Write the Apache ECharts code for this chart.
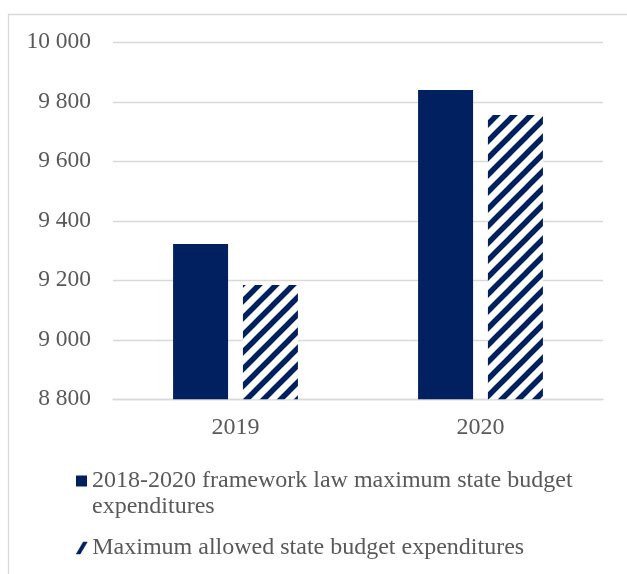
<!DOCTYPE html>
<html>
<head>
<meta charset="utf-8">
<script src="https://cdn.jsdelivr.net/npm/echarts@6/dist/echarts.min.js"></script>
<style>
  html, body { margin: 0; padding: 0; background: #fff; }
  #main { width: 627px; height: 574px; }
</style>
</head>
<body>
<div id="main"></div>
<script>
// ---------- data ----------
var years = ['2019', '2020'];
var frameworkName = '2018-2020 framework law maximum state budget expenditures';
var allowedName = 'Maximum allowed state budget expenditures';
var frameworkValues = [9322, 9840];
var allowedValues = [9184, 9756];

var navy = '#002060';
var textColor = '#595959';
var lineColor = '#d9d9d9';
var fontName = 'Liberation Serif';

// diagonal hatch tile
function hatch() {
    var s = 17;
    var c = document.createElement('canvas');
    c.width = s;
    c.height = s;
    var ctx = c.getContext('2d');
    ctx.fillStyle = '#fff';
    ctx.fillRect(0, 0, s, s);
    ctx.strokeStyle = navy;
    ctx.lineWidth = 5.5;
    ctx.beginPath();
    ctx.moveTo(-s, s); ctx.lineTo(s, -s);
    ctx.moveTo(0, s); ctx.lineTo(s, 0);
    ctx.moveTo(0, 2 * s); ctx.lineTo(2 * s, 0);
    ctx.stroke();
    return c;
}

var chart = echarts.init(document.getElementById('main'));

var option = {
    backgroundColor: '#fff',
    animation: false,
    grid: {
        left: 113,
        right: 24,
        top: 42.3,
        bottom: 174.7
    },
    graphic: [{
        type: 'rect',
        shape: { x: 8.5, y: 14.5, width: 700, height: 700 },
        style: { fill: 'none', stroke: lineColor, lineWidth: 1.3 },
        silent: true
    }],
    legend: [{
        left: 76,
        top: 442,
        padding: 0,
        itemWidth: 11,
        itemHeight: 11,
        data: [{ name: frameworkName, icon: 'rect' }],
        itemStyle: { color: navy },
        // empty first line keeps the icon level with the first text line
        formatter: function () {
            return '\n2018-2020 framework law maximum state budget\nexpenditures';
        },
        textStyle: {
            color: textColor,
            fontFamily: fontName,
            fontSize: 24,
            lineHeight: 26
        }
    }, {
        left: 76,
        top: 535,
        padding: 0,
        itemWidth: 11,
        itemHeight: 12,
        data: [{ name: allowedName, icon: 'path://M7,0 L11,0 L4,12 L0,12 Z' }],
        itemStyle: { color: navy, borderColor: navy, borderWidth: 0.5 },
        textStyle: {
            color: textColor,
            fontFamily: fontName,
            fontSize: 24,
            lineHeight: 26
        }
    }],
    xAxis: {
        type: 'category',
        data: years,
        axisTick: { show: false },
        axisLine: { lineStyle: { color: lineColor, width: 1.3 } },
        axisLabel: {
            color: textColor,
            fontFamily: fontName,
            fontSize: 24,
            margin: 16
        }
    },
    yAxis: {
        type: 'value',
        min: 8800,
        max: 10000,
        interval: 200,
        axisLine: { show: false },
        axisTick: { show: false },
        splitLine: { lineStyle: { color: lineColor, width: 1.3 } },
        axisLabel: {
            color: textColor,
            fontFamily: fontName,
            fontSize: 23.5,
            margin: 22,
            formatter: function (v) {
                return String(v).replace(/\B(?=(\d{3})+(?!\d))/g, ' ');
            }
        }
    },
    series: [{
        name: frameworkName,
        type: 'bar',
        data: frameworkValues,
        barWidth: 55,
        barGap: '27%',
        itemStyle: { color: navy }
    }, {
        name: allowedName,
        type: 'bar',
        data: allowedValues,
        barWidth: 55,
        itemStyle: { color: { image: hatch(), repeat: 'repeat' } }
    }]
};

chart.setOption(option);
</script>
</body>
</html>
